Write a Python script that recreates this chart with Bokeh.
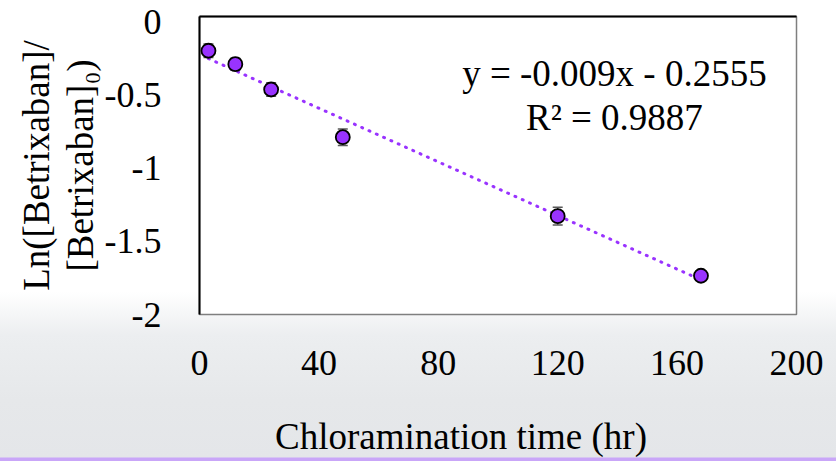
from bokeh.plotting import figure
from bokeh.models import (Range1d, FixedTicker, NumeralTickFormatter, LinearAxis,
                          ColumnDataSource, Whisker, TeeHead, Label)
from bokeh.embed import file_html
from bokeh.resources import INLINE

# ---- data ----
time_hr = [3, 12, 24, 48, 120, 168]
ln_ratio = [-0.23, -0.32, -0.49, -0.81, -1.34, -1.74]
err = [0.045, 0.04, 0.045, 0.055, 0.06, 0.02]
x_ticks = [0, 40, 80, 120, 160, 200]
y_ticks = [0, -0.5, -1, -1.5, -2]
slope = -0.009
intercept = -0.2555
equation_text = "y = -0.009x - 0.2555"
r2_text = "R² = 0.9887"
x_title = "Chloramination time (hr)"
y_title = "Ln([Betrixaban]/\n[Betrixaban]₀)"

FONT = "Liberation Serif"
PURPLE = "#9933FF"

p = figure(width=836, height=461, x_range=Range1d(0, 200), y_range=Range1d(-2, 0),
           output_backend="svg", toolbar_location=None, y_axis_location=None,
           min_border_left=199, min_border_right=40, min_border_top=16, min_border_bottom=147)

p.styles = {"background": "linear-gradient(to bottom, #ffffff 0px, #ffffff 292px, "
                          "#eceef0 335px, #e6e8ea 400px, #e4e6e9 457px, "
                          "#c9a6f8 458px, #c9a6f8 461px)"}
p.border_fill_alpha = 0
p.background_fill_color = "white"
p.outline_line_color = "#7f7f7f"
p.outline_line_width = 1.5
for g in p.grid:
    g.visible = False

# the reference draws its y tick labels a few pixels below their values;
# a label-only range reproduces that offset (and keeps the top "0" inside the canvas)
p.extra_y_ranges = {"labels": Range1d(-2, 0.035)}
yax = LinearAxis(y_range_name="labels")
p.add_layout(yax, "left")

for ax in (p.xaxis[0], yax):
    ax.major_tick_line_color = None
    ax.minor_tick_line_color = None
    ax.major_label_text_font = FONT
    ax.major_label_text_font_size = "36px"
    ax.major_label_text_color = "black"
    ax.axis_label_text_font = FONT
    ax.axis_label_text_font_size = "37px"
    ax.axis_label_text_font_style = "normal"
    ax.axis_label_text_color = "black"

p.xaxis.ticker = FixedTicker(ticks=x_ticks)
yax.ticker = FixedTicker(ticks=y_ticks)
yax.formatter = NumeralTickFormatter(format="0.[0]")
p.xaxis.axis_line_color = None
yax.axis_line_color = "black"
yax.axis_line_width = 2
p.xaxis.major_label_standoff = 30
yax.major_label_standoff = 32
# the reference's x title sits left of the frame's centre; trailing no-break spaces shift it
p.xaxis.axis_label = x_title + "\u00a0" * 8
yax.axis_label = y_title
yax.axis_label_text_line_height = 1.05
p.xaxis.axis_label_standoff = 38
yax.axis_label_standoff = 1

top_axis = LinearAxis(ticker=FixedTicker(ticks=[]), axis_line_color="black", axis_line_width=2,
                      major_tick_line_color=None, minor_tick_line_color=None,
                      major_label_text_font_size="0px")
p.add_layout(top_axis, "above")

# trendline
tx = [time_hr[0], time_hr[-1]]
ty = [slope * v + intercept for v in tx]
p.line(tx, ty, line_color=PURPLE, line_width=3, line_dash="1 7", line_cap="round")

# error bars
src = ColumnDataSource(dict(x=time_hr, y=ln_ratio,
                            lo=[a - b for a, b in zip(ln_ratio, err)],
                            hi=[a + b for a, b in zip(ln_ratio, err)]))
wh = Whisker(source=src, base="x", lower="lo", upper="hi", line_color="#595959", line_width=1.5,
             upper_head=TeeHead(size=10, line_color="#595959", line_width=1.5),
             lower_head=TeeHead(size=10, line_color="#595959", line_width=1.5))
p.add_layout(wh)

p.scatter("x", "y", source=src, size=14, fill_color=PURPLE, line_color="black", line_width=1.8)

# equation labels
p.add_layout(Label(x=139, y=-0.38, text=equation_text, text_font=FONT, text_font_size="37px",
                   text_align="center", text_baseline="middle", text_color="black"))
p.add_layout(Label(x=139, y=-0.68, text=r2_text, text_font=FONT, text_font_size="37px",
                   text_align="center", text_baseline="middle", text_color="black"))

open("out.html", "w").write(file_html(p, INLINE))
